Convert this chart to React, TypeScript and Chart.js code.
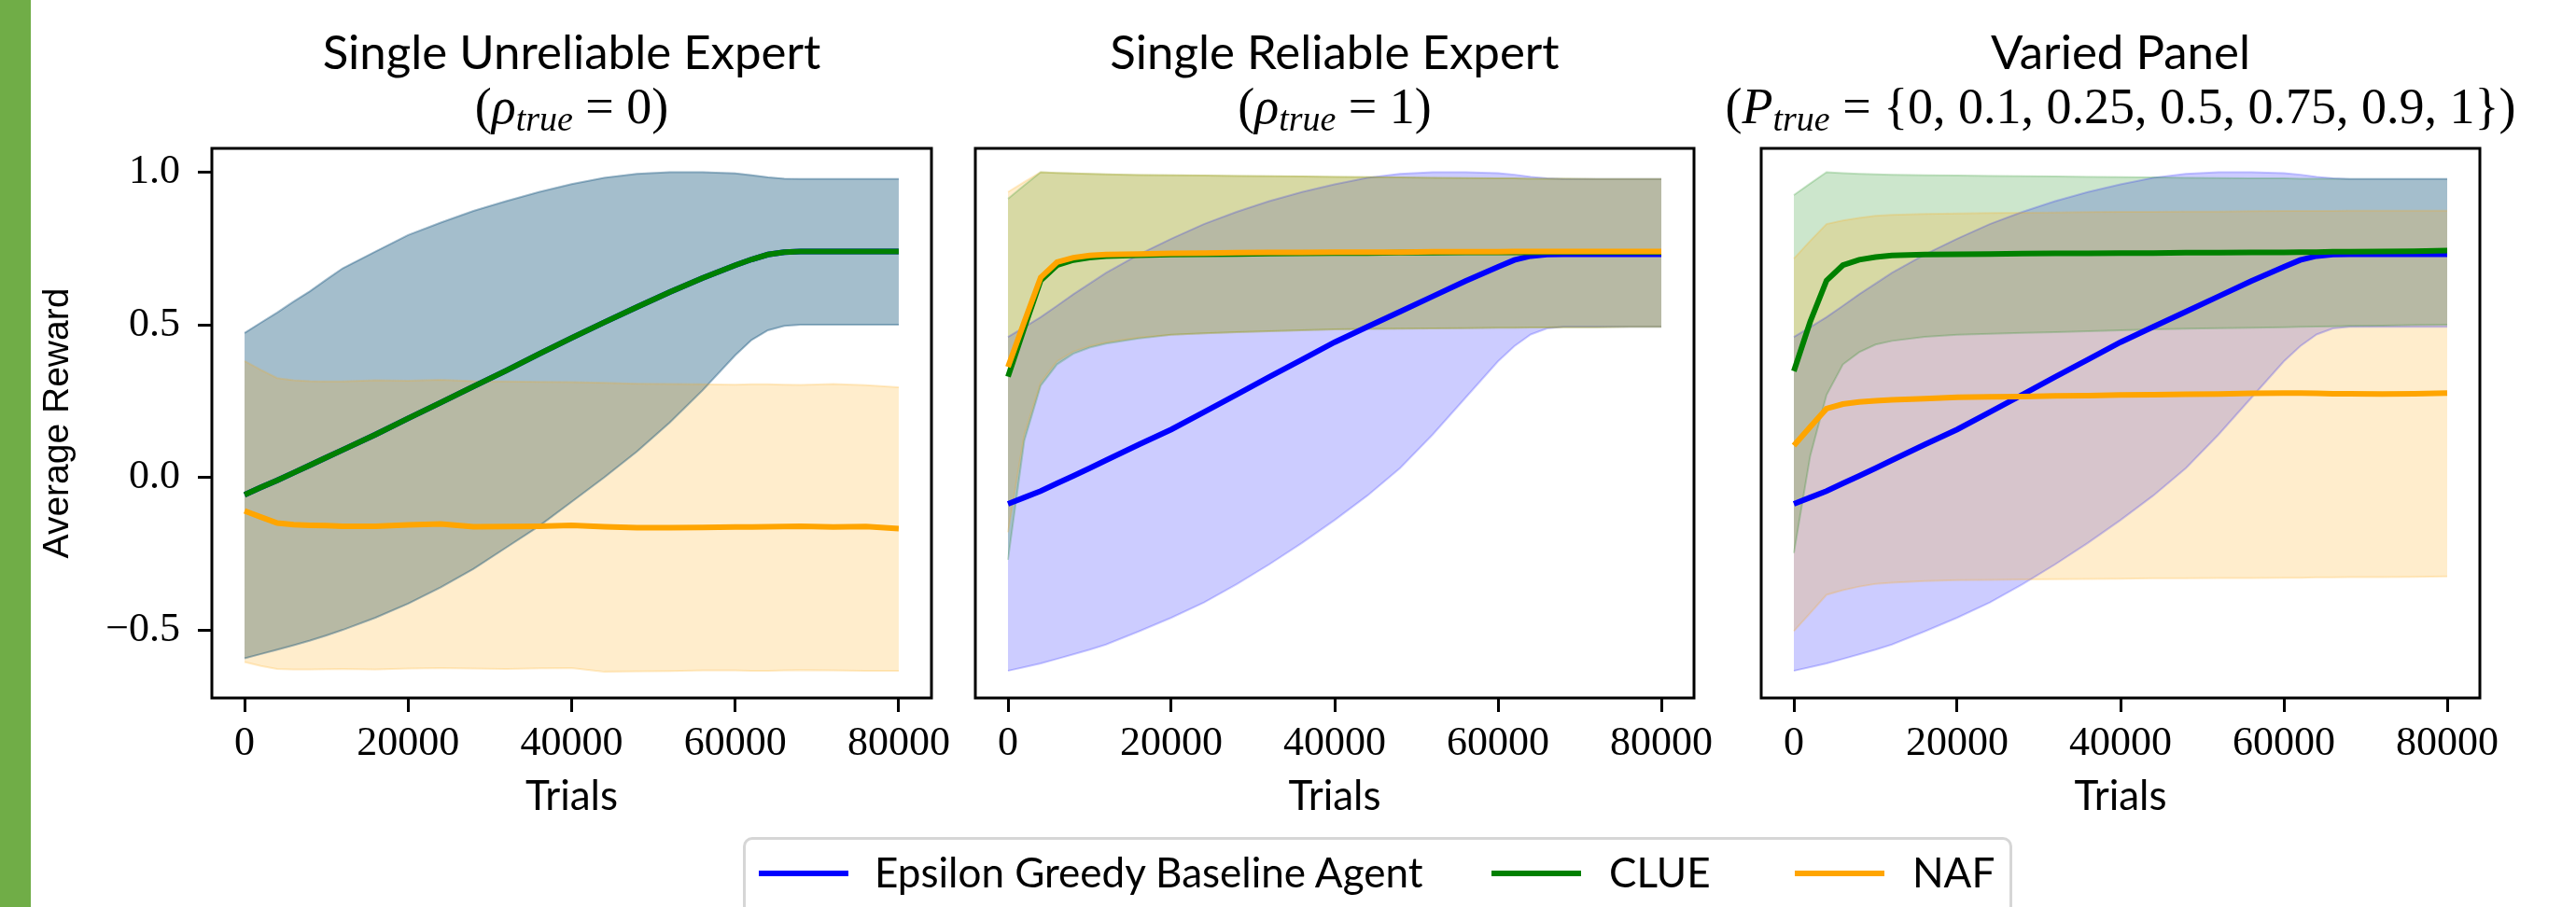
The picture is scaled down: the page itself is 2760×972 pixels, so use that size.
import React, { useEffect, useRef } from 'react';
import { Chart, registerables } from 'chart.js';

Chart.register(...registerables);

// ---------- data ----------
const TRIALS = [0, 2000, 4000, 6000, 8000, 10000, 12000, 16000, 20000, 24000, 28000, 32000, 36000, 40000, 44000, 48000, 52000, 56000, 60000, 62000, 64000, 66000, 68000, 72000, 76000, 80000];
const X_TICKS = [0, 20000, 40000, 60000, 80000];
const Y_TICKS = [-0.5, 0, 0.5, 1];
const Y_TICK_LABELS = ['\u22120.5', '0.0', '0.5', '1.0'];

// Panel 1: single unreliable expert (baseline and CLUE coincide)
const P1_CLUE_MEAN = [-0.057, -0.033, -0.01, 0.015, 0.04, 0.065, 0.09, 0.14, 0.193, 0.245, 0.298, 0.35, 0.404, 0.457, 0.508, 0.558, 0.607, 0.653, 0.695, 0.714, 0.73, 0.738, 0.74, 0.74, 0.74, 0.74];
const P1_CLUE_UPPER = [0.473, 0.507, 0.54, 0.576, 0.61, 0.648, 0.685, 0.74, 0.794, 0.835, 0.873, 0.905, 0.935, 0.961, 0.982, 0.995, 1.0, 1.0, 0.996, 0.99, 0.983, 0.979, 0.978, 0.978, 0.978, 0.978];
const P1_CLUE_LOWER = [-0.593, -0.579, -0.565, -0.55, -0.535, -0.518, -0.5, -0.46, -0.414, -0.36, -0.3, -0.23, -0.16, -0.08, 0.0, 0.085, 0.18, 0.285, 0.4, 0.45, 0.482, 0.496, 0.5, 0.5, 0.5, 0.5];
const P1_NAF_MEAN = [-0.11, -0.13, -0.15, -0.155, -0.157, -0.158, -0.16, -0.16, -0.156, -0.153, -0.162, -0.161, -0.16, -0.157, -0.162, -0.165, -0.165, -0.164, -0.163, -0.163, -0.162, -0.161, -0.16, -0.163, -0.161, -0.168];
const P1_NAF_UPPER = [0.381, 0.352, 0.325, 0.318, 0.315, 0.314, 0.314, 0.318, 0.317, 0.32, 0.315, 0.314, 0.313, 0.312, 0.31, 0.307, 0.306, 0.305, 0.304, 0.305, 0.305, 0.304, 0.303, 0.306, 0.302, 0.295];
const P1_NAF_LOWER = [-0.605, -0.618, -0.628, -0.63, -0.63, -0.629, -0.628, -0.63, -0.627, -0.625, -0.627, -0.628, -0.626, -0.625, -0.637, -0.636, -0.635, -0.633, -0.633, -0.634, -0.634, -0.633, -0.632, -0.633, -0.634, -0.634];

// Epsilon greedy baseline (panels 2 and 3)
const BASE_MEAN = [-0.087, -0.066, -0.045, -0.02, 0.005, 0.03, 0.056, 0.107, 0.157, 0.214, 0.271, 0.329, 0.386, 0.443, 0.493, 0.543, 0.593, 0.643, 0.69, 0.712, 0.725, 0.73, 0.731, 0.731, 0.731, 0.731];
const BASE_UPPER = [0.46, 0.492, 0.525, 0.562, 0.6, 0.635, 0.67, 0.73, 0.782, 0.83, 0.87, 0.905, 0.935, 0.96, 0.982, 0.995, 1.0, 1.0, 0.997, 0.992, 0.985, 0.98, 0.978, 0.978, 0.978, 0.978];
const BASE_LOWER = [-0.634, -0.622, -0.61, -0.595, -0.58, -0.565, -0.548, -0.505, -0.46, -0.41, -0.35, -0.285, -0.215, -0.14, -0.06, 0.03, 0.14, 0.26, 0.38, 0.43, 0.468, 0.488, 0.493, 0.493, 0.493, 0.493];

// Panel 2: single reliable expert
const P2_CLUE_MEAN = [0.33, 0.49, 0.645, 0.695, 0.712, 0.72, 0.725, 0.728, 0.73, 0.731, 0.732, 0.733, 0.734, 0.735, 0.735, 0.736, 0.736, 0.737, 0.737, 0.737, 0.737, 0.738, 0.738, 0.738, 0.738, 0.738];
const P2_CLUE_UPPER = [0.913, 0.957, 1.0, 0.998, 0.996, 0.995, 0.993, 0.991, 0.99, 0.989, 0.988, 0.987, 0.986, 0.985, 0.984, 0.983, 0.982, 0.981, 0.98, 0.98, 0.979, 0.979, 0.979, 0.978, 0.978, 0.978];
const P2_CLUE_LOWER = [-0.27, 0.12, 0.3, 0.37, 0.405, 0.425, 0.438, 0.455, 0.467, 0.472, 0.476, 0.479, 0.482, 0.485, 0.486, 0.487, 0.488, 0.489, 0.49, 0.49, 0.491, 0.491, 0.492, 0.492, 0.493, 0.493];
const P2_NAF_MEAN = [0.362, 0.51, 0.655, 0.705, 0.72, 0.727, 0.73, 0.732, 0.734, 0.735, 0.736, 0.737, 0.737, 0.738, 0.738, 0.738, 0.739, 0.739, 0.739, 0.74, 0.74, 0.74, 0.74, 0.74, 0.74, 0.74];
const P2_NAF_UPPER = [0.935, 0.968, 1.0, 0.998, 0.996, 0.995, 0.993, 0.991, 0.99, 0.989, 0.988, 0.987, 0.986, 0.985, 0.984, 0.983, 0.982, 0.981, 0.98, 0.98, 0.979, 0.979, 0.979, 0.978, 0.978, 0.978];
const P2_NAF_LOWER = [-0.18, 0.14, 0.31, 0.38, 0.412, 0.43, 0.442, 0.458, 0.467, 0.472, 0.476, 0.479, 0.482, 0.485, 0.486, 0.487, 0.488, 0.489, 0.49, 0.49, 0.491, 0.491, 0.492, 0.492, 0.493, 0.493];

// Panel 3: varied panel
const P3_CLUE_MEAN = [0.348, 0.51, 0.645, 0.695, 0.713, 0.722, 0.727, 0.73, 0.731, 0.732, 0.733, 0.734, 0.734, 0.735, 0.735, 0.736, 0.736, 0.737, 0.737, 0.738, 0.738, 0.739, 0.739, 0.74, 0.741, 0.743];
const P3_CLUE_UPPER = [0.925, 0.963, 1.0, 0.997, 0.995, 0.993, 0.992, 0.99, 0.989, 0.988, 0.987, 0.986, 0.985, 0.984, 0.983, 0.982, 0.981, 0.98, 0.98, 0.979, 0.979, 0.979, 0.978, 0.978, 0.978, 0.978];
const P3_CLUE_LOWER = [-0.248, 0.07, 0.27, 0.37, 0.41, 0.435, 0.447, 0.46, 0.467, 0.47, 0.473, 0.476, 0.479, 0.482, 0.485, 0.487, 0.489, 0.49, 0.492, 0.493, 0.494, 0.495, 0.496, 0.497, 0.499, 0.5];
const P3_NAF_MEAN = [0.104, 0.165, 0.225, 0.24, 0.247, 0.251, 0.254, 0.258, 0.262, 0.264, 0.265, 0.267, 0.268, 0.27, 0.271, 0.272, 0.273, 0.275, 0.276, 0.276, 0.275, 0.274, 0.274, 0.273, 0.274, 0.276];
const P3_NAF_UPPER = [0.717, 0.775, 0.83, 0.842, 0.85, 0.857, 0.86, 0.863, 0.865, 0.866, 0.867, 0.868, 0.869, 0.87, 0.87, 0.871, 0.871, 0.872, 0.873, 0.873, 0.873, 0.873, 0.874, 0.874, 0.874, 0.874];
const P3_NAF_LOWER = [-0.504, -0.445, -0.385, -0.37, -0.358, -0.349, -0.345, -0.34, -0.337, -0.336, -0.335, -0.334, -0.333, -0.332, -0.331, -0.331, -0.33, -0.33, -0.329, -0.329, -0.328, -0.328, -0.327, -0.327, -0.326, -0.325];

const SERIES_LABELS = ['Epsilon Greedy Baseline Agent', 'CLUE', 'NAF'];
const PANEL_TITLES = ['Single Unreliable Expert', 'Single Reliable Expert', 'Varied Panel'];
type Seg = [string, 'up' | 'it' | 'sub'];
const PANEL_SUBTITLES: Seg[][] = [
  [['(', 'up'], ['\u03C1', 'it'], ['true', 'sub'], [' = 0)', 'up']],
  [['(', 'up'], ['\u03C1', 'it'], ['true', 'sub'], [' = 1)', 'up']],
  [['(', 'up'], ['P', 'it'], ['true', 'sub'], [' = {0, 0.1, 0.25, 0.5, 0.75, 0.9, 1})', 'up']],
];
const X_TITLE = 'Trials';
const Y_TITLE = 'Average Reward';

// ---------- styling / layout ----------
const LINE_COLORS = ['#0000ff', '#008000', '#ffa500'];
const BAND_COLORS = ['rgba(0,0,255,0.2)', 'rgba(0,128,0,0.2)', 'rgba(255,165,0,0.2)'];
const CANVAS_H = 900;

const PANELS = [
  { left: 0, width: 1030, padL: 0, padR: 32, yAxis: true,
    base: [P1_CLUE_MEAN, P1_CLUE_UPPER, P1_CLUE_LOWER],
    clue: [P1_CLUE_MEAN, P1_CLUE_UPPER, P1_CLUE_LOWER],
    naf: [P1_NAF_MEAN, P1_NAF_UPPER, P1_NAF_LOWER] },
  { left: 1030, width: 820, padL: 15, padR: 35, yAxis: false,
    base: [BASE_MEAN, BASE_UPPER, BASE_LOWER],
    clue: [P2_CLUE_MEAN, P2_CLUE_UPPER, P2_CLUE_LOWER],
    naf: [P2_NAF_MEAN, P2_NAF_UPPER, P2_NAF_LOWER] },
  { left: 1850, width: 910, padL: 37, padR: 103, yAxis: false,
    base: [BASE_MEAN, BASE_UPPER, BASE_LOWER],
    clue: [P3_CLUE_MEAN, P3_CLUE_UPPER, P3_CLUE_LOWER],
    naf: [P3_NAF_MEAN, P3_NAF_UPPER, P3_NAF_LOWER] },
];

const toPts = (arr: number[]) => TRIALS.map((x, i) => ({ x, y: arr[i] }));

function lineDs(label: string, data: number[], color: string) {
  return { label, data: toPts(data), borderColor: color, backgroundColor: color, borderWidth: 6,
    pointRadius: 0, pointHoverRadius: 0, fill: false, tension: 0 };
}
function bandDs(data: number[], rgba: string, fillPrev: boolean) {
  return { label: '', data: toPts(data), borderColor: rgba, backgroundColor: rgba, borderWidth: 2,
    pointRadius: 0, pointHoverRadius: 0, fill: fillPrev ? '-1' : false, tension: 0 };
}

function makeTitlePlugin(idx: number) {
  return {
    id: 'panelTitle' + idx,
    afterDraw(chart: any) {
      const { ctx, chartArea } = chart;
      const cx = (chartArea.left + chartArea.right) / 2;
      ctx.save();
      ctx.fillStyle = '#000';
      ctx.textBaseline = 'alphabetic';
      ctx.textAlign = 'center';
      ctx.font = '51px Lato';
      ctx.fillText(PANEL_TITLES[idx], cx, 74);
      const size = 54;
      const fontFor = (k: string) =>
        k === 'up' ? `${size}px "Liberation Serif"` :
        k === 'it' ? `italic ${size}px "Liberation Serif"` :
        `italic ${Math.round(size * 0.7)}px "Liberation Serif"`;
      const segs = PANEL_SUBTITLES[idx];
      let total = 0;
      for (const [t, k] of segs) { ctx.font = fontFor(k); total += ctx.measureText(t).width; }
      let x = cx - total / 2;
      ctx.textAlign = 'left';
      for (const [t, k] of segs) {
        ctx.font = fontFor(k);
        ctx.fillText(t, x, k === 'sub' ? 140 : 132);
        x += ctx.measureText(t).width;
      }
      ctx.restore();
    },
  };
}

const boxPlugin = {
  id: 'axesBox',
  afterDatasetsDraw(chart: any) {
    const { ctx, chartArea } = chart;
    ctx.save();
    ctx.strokeStyle = '#000';
    ctx.lineWidth = 3;
    ctx.strokeRect(chartArea.left, chartArea.top, chartArea.right - chartArea.left, chartArea.bottom - chartArea.top);
    ctx.restore();
  },
};

function Panel({ idx }: { idx: number }) {
  const ref = useRef<HTMLCanvasElement>(null);
  const p = PANELS[idx];
  useEffect(() => {
    if (!ref.current) return;
    const datasets: any[] = [
      lineDs(SERIES_LABELS[2], p.naf[0], LINE_COLORS[2]),
      lineDs(SERIES_LABELS[1], p.clue[0], LINE_COLORS[1]),
      lineDs(SERIES_LABELS[0], p.base[0], LINE_COLORS[0]),
      bandDs(p.naf[2], BAND_COLORS[2], false),
      bandDs(p.naf[1], BAND_COLORS[2], true),
      bandDs(p.clue[2], BAND_COLORS[1], false),
      bandDs(p.clue[1], BAND_COLORS[1], true),
      bandDs(p.base[2], BAND_COLORS[0], false),
      bandDs(p.base[1], BAND_COLORS[0], true),
    ];
    datasets.forEach((d, i) => { d.order = i; });
    const tickFont = { family: '"Liberation Serif"', size: 44 };
    const chart = new Chart(ref.current, {
      type: 'line',
      data: { datasets },
      options: {
        responsive: false,
        animation: false,
        devicePixelRatio: 1,
        events: [],
        layout: { padding: { left: p.padL, right: p.padR, top: 159, bottom: 0 } },
        plugins: {
          legend: { display: false },
          tooltip: { enabled: false },
          filler: { propagate: false, drawTime: 'beforeDatasetsDraw' },
        },
        scales: {
          x: {
            type: 'linear', min: -4000, max: 84000,
            afterBuildTicks: (s: any) => { s.ticks = X_TICKS.map((v) => ({ value: v })); },
            afterFit: (s: any) => { s.height = CANVAS_H - 748; s.paddingLeft = 0; s.paddingRight = 0; },
            ticks: { callback: (v: any) => String(v), font: tickFont, color: '#000', padding: 8, maxRotation: 0, autoSkip: false },
            grid: { display: true, drawOnChartArea: false, drawTicks: true, tickLength: 15, tickWidth: 3, tickColor: '#000' },
            border: { display: false },
            title: { display: true, text: X_TITLE, color: '#000', font: { family: 'Lato', size: 44 }, padding: { top: 0, bottom: 20 } },
          },
          y: {
            type: 'linear', min: -0.723, max: 1.078, display: p.yAxis,
            afterBuildTicks: (s: any) => { s.ticks = Y_TICKS.map((v) => ({ value: v })); },
            afterFit: (s: any) => { s.width = p.yAxis ? 227 : 0; s.paddingTop = 0; s.paddingBottom = 0; },
            ticks: { callback: (v: any) => Y_TICK_LABELS[Y_TICKS.indexOf(v)], font: tickFont, color: '#000', padding: 19, autoSkip: false },
            grid: { display: true, drawOnChartArea: false, drawTicks: true, tickLength: 15, tickWidth: 3, tickColor: '#000' },
            border: { display: false },
            title: { display: true, text: Y_TITLE, color: '#000', font: { family: '"Liberation Sans"', size: 39 }, padding: { top: 39, bottom: 0 } },
          },
        },
      } as any,
      plugins: [makeTitlePlugin(idx), boxPlugin],
    });
    let alive = true;
    const fonts = (document as any).fonts;
    if (fonts && fonts.load) {
      Promise.all([
        fonts.load('51px Lato'), fonts.load('44px "Liberation Serif"'), fonts.load('italic 54px "Liberation Serif"'),
        fonts.load('39px "Liberation Sans"'),
      ]).then(() => { if (alive) chart.update(); }).catch(() => {});
    }
    return () => { alive = false; chart.destroy(); };
  }, [idx]);
  return (
    <canvas ref={ref} width={p.width} height={CANVAS_H}
      style={{ position: 'absolute', left: p.left, top: 0, width: p.width, height: CANVAS_H }} />
  );
}

const LEGEND_LINE_X = [17, 802, 1127];
const LEGEND_TEXT_X = [141, 928, 1253];

export default function App() {
  useEffect(() => { document.body.style.margin = '0'; }, []);
  return (
    <div style={{ position: 'absolute', left: 0, top: 0, width: 2760, height: 972, overflow: 'hidden', background: '#fff' }}>
      {PANELS.map((_, i) => <Panel key={i} idx={i} />)}
      <div style={{ position: 'absolute', left: 0, top: 0, width: 33, height: 972, background: '#70ad47' }} />
      <div style={{ position: 'absolute', left: 796, top: 897, width: 1360, height: 110, boxSizing: 'border-box',
        border: '3px solid #d6d6d6', borderRadius: 10, background: 'rgba(255,255,255,0.85)' }}>
        {SERIES_LABELS.map((lab, i) => (
          <React.Fragment key={lab}>
            <div style={{ position: 'absolute', left: LEGEND_LINE_X[i] - 3, top: 33, width: 96, height: 5.5, background: LINE_COLORS[i] }} />
            <div style={{ position: 'absolute', left: LEGEND_TEXT_X[i] - 3, top: 8, font: '44px Lato', lineHeight: '52.8px',
              color: '#000', whiteSpace: 'nowrap' }}>{lab}</div>
          </React.Fragment>
        ))}
      </div>
    </div>
  );
}
